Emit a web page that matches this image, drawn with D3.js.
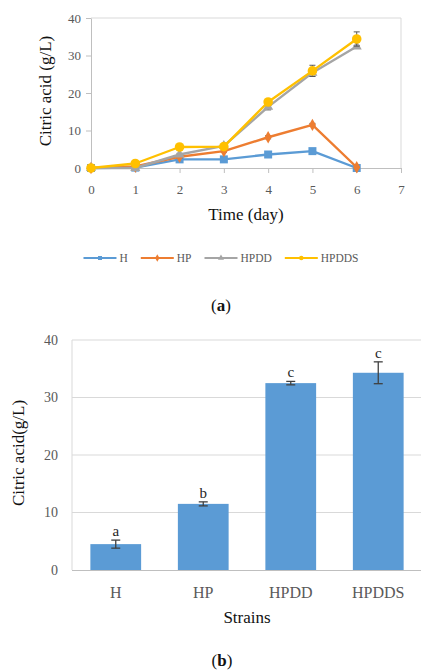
<!DOCTYPE html>
<html>
<head>
<meta charset="utf-8">
<script src="https://cdn.jsdelivr.net/npm/d3@7"></script>
<style>
  html, body { margin: 0; padding: 0; background: #fff; }
  svg, svg text { font-family: 'Liberation Serif', 'Times New Roman', serif !important; }
</style>
</head>
<body>
<svg id="fig" width="421" height="670"></svg>
<script>
// ---- Panel (a): citric acid over time ----
const days = [0, 1, 2, 3, 4, 5, 6];
const dayTicks = [0, 1, 2, 3, 4, 5, 6, 7];
const seriesNames = ["H", "HP", "HPDD", "HPDDS"];
const seriesColors = ["#5b9bd5", "#ed7d31", "#a5a5a5", "#ffc000"];
const seriesShapes = ["square", "diamond", "triangle", "circle"];
const valuesH     = [0, 0.1, 2.3, 2.3, 3.6, 4.5, 0];
const valuesHP    = [0, 0.4, 3.0, 4.5, 8.2, 11.5, 0.2];
const valuesHPDD  = [0, 0.0, 3.6, 5.9, 16.3, 25.4, 32.4];
const valuesHPDDS = [0, 1.2, 5.6, 5.7, 17.6, 25.9, 34.4];
const sdH     = [0, 0.1, 0.2, 0.2, 0.3, 0.7, 0];
const sdHP    = [0, 0.1, 0.3, 0.3, 0.4, 0.4, 0.1];
const sdHPDD  = [0, 0.1, 0.3, 0.4, 0.8, 0.9, 0.3];
const sdHPDDS = [0, 0.2, 0.4, 0.4, 0.7, 1.5, 1.9];
const lineYTicks = [0, 10, 20, 30, 40];

// ---- Panel (b): citric acid by strain ----
const strains = ["H", "HP", "HPDD", "HPDDS"];
const strainValues = [4.5, 11.5, 32.5, 34.3];
const strainSd = [0.7, 0.35, 0.3, 1.9];
const strainLetters = ["a", "b", "c", "c"];
const barYTicks = [0, 10, 20, 30, 40];

const svg = d3.select("#fig");
const serif = "'Liberation Serif', 'Times New Roman', serif";
const tickColor = "#595959";
const axisGrey = "#bfbfbf";
const gridGrey = "#d9d9d9";

// ================= Panel (a) =================
const xA = d3.scaleLinear().domain([0, 7]).range([91, 401]);
const yA = d3.scaleLinear().domain([0, 40]).range([168, 18]);

const gA = svg.append("g");

// plot frame (top and right edges)
gA.append("line").attr("x1", xA(0)).attr("x2", xA(7)).attr("y1", yA(40)).attr("y2", yA(40))
  .attr("stroke", gridGrey).attr("stroke-width", 1);
gA.append("line").attr("x1", xA(7)).attr("x2", xA(7)).attr("y1", yA(40)).attr("y2", yA(0))
  .attr("stroke", gridGrey).attr("stroke-width", 1);

const xAxisA = gA.append("g").attr("transform", `translate(0,${yA(0)})`)
  .call(d3.axisBottom(xA).tickValues(dayTicks).tickFormat(d3.format("d")).tickSize(5).tickSizeOuter(0));
const yAxisA = gA.append("g").attr("transform", `translate(${xA(0)},0)`)
  .call(d3.axisLeft(yA).tickValues(lineYTicks).tickSize(5).tickSizeOuter(0));
[xAxisA, yAxisA].forEach(ax => {
  ax.attr("font-family", serif).attr("font-size", 13);
  ax.select(".domain").attr("stroke", axisGrey);
  ax.selectAll(".tick line").attr("stroke", axisGrey);
  ax.selectAll(".tick text").attr("fill", tickColor);
});
xAxisA.selectAll(".tick text").attr("y", 17);
yAxisA.selectAll(".tick text").attr("x", -10);

gA.append("text").attr("x", 246).attr("y", 220).attr("text-anchor", "middle")
  .attr("fill", "#111").attr("font-size", 17).text("Time (day)");
gA.append("text").attr("transform", `translate(51,${(yA(0) + yA(40)) / 2 - 2}) rotate(-90)`)
  .attr("text-anchor", "middle").attr("fill", "#111").attr("font-size", 17)
  .text("Citric acid (g/L)");

const seriesVals = [valuesH, valuesHP, valuesHPDD, valuesHPDDS];
const seriesSd = [sdH, sdHP, sdHPDD, sdHPDDS];
const symbolTypes = {
  square: d3.symbolSquare, diamond: d3.symbolDiamond,
  triangle: d3.symbolTriangle, circle: d3.symbolCircle
};
const markerArea = { square: 64, diamond: 44, triangle: 44, circle: 72 };

const lineGen = d3.line().x(d => xA(d.day)).y(d => yA(d.v));

seriesNames.forEach((name, i) => {
  const pts = days.map((d, j) => ({ day: d, v: seriesVals[i][j], sd: seriesSd[i][j] }));
  const g = gA.append("g");
  // error bars
  pts.filter(p => p.sd > 0.25).forEach(p => {
    const x = xA(p.day);
    g.append("line").attr("x1", x).attr("x2", x).attr("y1", yA(p.v + p.sd)).attr("y2", yA(p.v - p.sd))
      .attr("stroke", "#595959").attr("stroke-width", 1);
    [p.v + p.sd, p.v - p.sd].forEach(e => {
      g.append("line").attr("x1", x - 3).attr("x2", x + 3).attr("y1", yA(e)).attr("y2", yA(e))
        .attr("stroke", "#595959").attr("stroke-width", 1);
    });
  });
  g.append("path").datum(pts).attr("d", lineGen).attr("fill", "none")
    .attr("stroke", seriesColors[i]).attr("stroke-width", 2.4).attr("stroke-linejoin", "round");
  const shape = seriesShapes[i];
  g.selectAll("path.mk").data(pts).join("path").attr("class", "mk")
    .attr("transform", p => `translate(${xA(p.day)},${yA(p.v)})`)
    .attr("d", d3.symbol().type(symbolTypes[shape]).size(markerArea[shape]))
    .attr("fill", seriesColors[i]);
});

// legend
const legend = gA.append("g");
const lineLen = 33, textGap = 3, itemGap = 13;
let lx = 0;
seriesNames.forEach((name, i) => {
  const it = legend.append("g");
  it.append("line").attr("x1", 0).attr("x2", lineLen).attr("y1", 0).attr("y2", 0)
    .attr("stroke", seriesColors[i]).attr("stroke-width", 2.2);
  it.append("path").attr("transform", `translate(${lineLen / 2},0)`)
    .attr("d", d3.symbol().type(symbolTypes[seriesShapes[i]]).size(16))
    .attr("fill", seriesColors[i]);
  const t = it.append("text").attr("x", lineLen + textGap).attr("y", 4)
    .attr("fill", tickColor).attr("font-size", 11.5).text(name);
  const w = lineLen + textGap + t.node().getComputedTextLength();
  it.attr("transform", `translate(${lx},0)`);
  lx += w + itemGap;
});
const legendWidth = lx - itemGap;
legend.attr("transform", `translate(${221 - legendWidth / 2},258)`);

const capA = gA.append("text").attr("x", 221).attr("y", 311).attr("text-anchor", "middle")
  .attr("fill", "#111").attr("font-size", 17);
capA.append("tspan").text("(");
capA.append("tspan").attr("font-weight", "bold").text("a");
capA.append("tspan").text(")");

// ================= Panel (b) =================
const xB = d3.scaleBand().domain(strains).range([72, 422]).paddingInner(0.42).paddingOuter(0.21);
const yB = d3.scaleLinear().domain([0, 40]).range([570, 340]);
const gB = svg.append("g");

// gridlines
gB.selectAll("line.grid").data(barYTicks.filter(t => t > 0)).join("line").attr("class", "grid")
  .attr("x1", 72).attr("x2", 421).attr("y1", d => yB(d)).attr("y2", d => yB(d))
  .attr("stroke", gridGrey).attr("stroke-width", 1);
gB.append("line").attr("x1", 72).attr("x2", 72).attr("y1", yB(40)).attr("y2", yB(0))
  .attr("stroke", gridGrey).attr("stroke-width", 1);

// bars
gB.selectAll("rect.bar").data(strains).join("rect").attr("class", "bar")
  .attr("x", d => xB(d)).attr("width", xB.bandwidth())
  .attr("y", (d, i) => yB(strainValues[i])).attr("height", (d, i) => yB(0) - yB(strainValues[i]))
  .attr("fill", "#5b9bd5");

// axes
const xAxisB = gB.append("g").attr("transform", `translate(0,${yB(0)})`)
  .call(d3.axisBottom(xB).tickSize(0).tickSizeOuter(0));
xAxisB.attr("font-family", serif).attr("font-size", 16);
xAxisB.select(".domain").attr("stroke", axisGrey).attr("d", "M72,0.5H421");
xAxisB.selectAll(".tick text").attr("fill", tickColor).attr("y", 17);

const yAxisB = gB.append("g").attr("transform", "translate(72,0)")
  .call(d3.axisLeft(yB).tickValues(barYTicks).tickSize(0));
yAxisB.attr("font-family", serif).attr("font-size", 14);
yAxisB.select(".domain").remove();
yAxisB.selectAll(".tick text").attr("fill", tickColor).attr("x", -14);

// error bars and significance letters
strains.forEach((s, i) => {
  const cx = xB(s) + xB.bandwidth() / 2;
  const hi = strainValues[i] + strainSd[i], lo = strainValues[i] - strainSd[i];
  gB.append("line").attr("x1", cx).attr("x2", cx).attr("y1", yB(hi)).attr("y2", yB(lo))
    .attr("stroke", "#404040").attr("stroke-width", 1.3);
  [hi, lo].forEach(e => {
    gB.append("line").attr("x1", cx - 4.5).attr("x2", cx + 4.5).attr("y1", yB(e)).attr("y2", yB(e))
      .attr("stroke", "#404040").attr("stroke-width", 1.3);
  });
  gB.append("text").attr("x", cx).attr("y", yB(hi) - 4).attr("text-anchor", "middle")
    .attr("fill", "#262626").attr("font-size", 15).text(strainLetters[i]);
});

gB.append("text").attr("x", 247).attr("y", 623).attr("text-anchor", "middle")
  .attr("fill", "#111").attr("font-size", 17).text("Strains");
gB.append("text").attr("transform", `translate(24,${(yB(0) + yB(40)) / 2 - 2}) rotate(-90)`)
  .attr("text-anchor", "middle").attr("fill", "#111").attr("font-size", 17)
  .text("Citric acid(g/L)");

const capB = gB.append("text").attr("x", 222).attr("y", 666).attr("text-anchor", "middle")
  .attr("fill", "#111").attr("font-size", 17);
capB.append("tspan").text("(");
capB.append("tspan").attr("font-weight", "bold").text("b");
capB.append("tspan").text(")");
</script>
</body>
</html>
